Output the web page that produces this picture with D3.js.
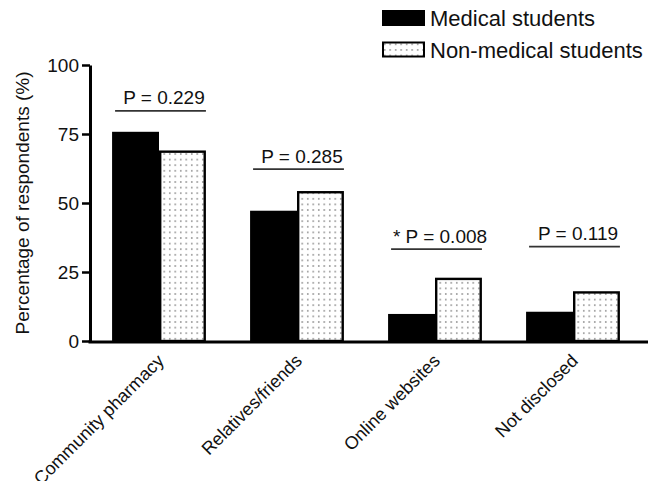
<!DOCTYPE html>
<html>
<head>
<meta charset="utf-8">
<script src="https://cdn.jsdelivr.net/npm/d3@7"></script>
<style>
  body { margin: 0; background: #fff; }
  text { font-family: "Liberation Sans", Arial, sans-serif; fill: #111; }
</style>
</head>
<body>
<div class="vis"></div>
<script>
var w = 661;
var h = 481;

// Data
var categories = ["Community pharmacy", "Relatives/friends", "Online websites", "Not disclosed"];
var seriesNames = ["Medical students", "Non-medical students"];
var medical = [75.8, 47.2, 9.8, 10.6];
var nonMedical = [68.6, 53.9, 22.5, 17.6];
var pLabels = ["P = 0.229", "P = 0.285", "* P = 0.008", "P = 0.119"];
var pLevels = [83.4, 62.3, 33.3, 34.2];
var yTicks = [0, 25, 50, 75, 100];

var rows = categories.map((c, i) => ({
    category: c,
    values: [
        { series: seriesNames[0], value: medical[i] },
        { series: seriesNames[1], value: nonMedical[i] }
    ],
    pLabel: pLabels[i],
    pLevel: pLevels[i]
}));

//Create SVG element
var svg = d3.select(".vis")
    .append("svg")
    .attr("width", w)
    .attr("height", h);

// dotted fill for the non-medical bars
var defs = svg.append("defs");
var pattern = defs.append("pattern")
    .attr("id", "dots")
    .attr("patternUnits", "userSpaceOnUse")
    .attr("width", 5.5)
    .attr("height", 5.6);
pattern.append("rect")
    .attr("width", 5.5)
    .attr("height", 5.6)
    .attr("fill", "#fff");
pattern.append("circle")
    .attr("cx", 2.7)
    .attr("cy", 2.8)
    .attr("r", 0.7)
    .attr("fill", "#333");

var x0 = 90, x1 = 642, yBase = 341, yTop = 65;

var x = d3.scaleBand()
    .domain(categories)
    .range([x0, x1])
    .paddingInner(0.32)
    .paddingOuter(0.16);

var xSub = d3.scaleBand()
    .domain(seriesNames)
    .range([0, x.bandwidth()]);

var y = d3.scaleLinear()
    .domain([0, 100])
    .range([yBase, yTop]);

var fillFor = d => d.series === seriesNames[0] ? "#000" : "url(#dots)";

// Bars
var groups = svg.selectAll("g.group")
    .data(rows)
    .enter()
    .append("g")
    .attr("class", "group")
    .attr("transform", d => "translate(" + x(d.category) + ",0)");

groups.selectAll("rect")
    .data(d => d.values)
    .enter()
    .append("rect")
    .attr("x", d => xSub(d.series) + (d.series === seriesNames[1] ? 1.2 : 0))
    .attr("y", d => y(d.value))
    .attr("width", d => xSub.bandwidth() - (d.series === seriesNames[1] ? 2.4 : 0))
    .attr("height", d => yBase - y(d.value))
    .attr("fill", fillFor)
    .attr("stroke", "#000")
    .attr("stroke-width", d => d.series === seriesNames[1] ? 2.4 : 0);

// P-value lines and labels
groups.append("line")
    .attr("x1", 3)
    .attr("x2", x.bandwidth())
    .attr("y1", d => y(d.pLevel))
    .attr("y2", d => y(d.pLevel))
    .attr("stroke", "#333")
    .attr("stroke-width", 1.8);

groups.append("text")
    .attr("x", x.bandwidth() / 2 + 5)
    .attr("y", d => y(d.pLevel) - 6.5)
    .attr("text-anchor", "middle")
    .attr("font-size", 19)
    .text(d => d.pLabel);

// Y axis
var yAxis = svg.append("g")
    .attr("transform", "translate(" + x0 + ",0)")
    .call(d3.axisLeft(y).tickValues(yTicks).tickSize(8).tickSizeOuter(0).tickPadding(3));
yAxis.select(".domain").attr("stroke-width", 3);
yAxis.selectAll(".tick line").attr("stroke-width", 2.5);
yAxis.selectAll(".tick text")
    .attr("font-size", 19)
    .attr("font-family", "Liberation Sans, Arial, sans-serif")
    .attr("fill", "#111");

svg.append("text")
    .attr("transform", "translate(29," + (yBase + yTop) / 2 + ") rotate(-90)")
    .attr("text-anchor", "middle")
    .attr("font-size", 19)
    .text("Percentage of respondents (%)");

// X axis
var xAxis = svg.append("g")
    .attr("transform", "translate(0," + (yBase + 1) + ")")
    .call(d3.axisBottom(x).tickSize(0).tickSizeOuter(0));
xAxis.select(".domain")
    .attr("d", "M" + (x0 - 1.5) + ",0H648")
    .attr("stroke-width", 3);
xAxis.selectAll(".tick text")
    .attr("x", 0)
    .attr("y", 0)
    .attr("dy", 0)
    .attr("text-anchor", "end")
    .attr("transform", "translate(6,20) rotate(-45)")
    .attr("font-size", 18)
    .attr("font-family", "Liberation Sans, Arial, sans-serif")
    .attr("fill", "#111");

// Legend
var legend = svg.selectAll("g.legend")
    .data(seriesNames)
    .enter()
    .append("g")
    .attr("class", "legend")
    .attr("transform", (d, i) => "translate(382," + (10 + i * 31.5) + ")");

legend.append("rect")
    .attr("x", d => d === seriesNames[1] ? 1 : 0)
    .attr("y", d => d === seriesNames[1] ? 1 : 0)
    .attr("width", d => d === seriesNames[1] ? 41 : 43)
    .attr("height", d => d === seriesNames[1] ? 14 : 16)
    .attr("fill", d => fillFor({ series: d }))
    .attr("stroke", "#000")
    .attr("stroke-width", d => d === seriesNames[1] ? 2 : 0);

legend.append("text")
    .attr("x", 48)
    .attr("y", 16)
    .attr("font-size", 22)
    .text(d => d);
</script>
</body>
</html>
